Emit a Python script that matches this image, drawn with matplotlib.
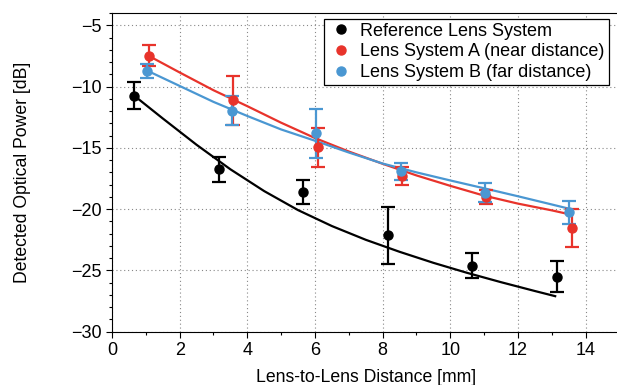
import matplotlib
matplotlib.use("Agg")
import matplotlib.pyplot as plt
from matplotlib.lines import Line2D
from matplotlib.ticker import MultipleLocator

plt.rcParams['font.family'] = ['Liberation Sans', 'DejaVu Sans']

# Measured data points (distance in mm, power in dB, +/- error in dB)
ref_x = [0.66, 3.17, 5.66, 8.15, 10.65, 13.14]
ref_y = [-10.75, -16.75, -18.6, -22.15, -24.6, -25.5]
ref_err = [1.1, 1.0, 1.0, 2.3, 1.0, 1.3]

a_x = [1.09, 3.59, 6.08, 8.58, 11.05, 13.59]
a_y = [-7.5, -11.1, -14.95, -17.3, -19.0, -21.5]
a_err = [0.85, 2.0, 1.6, 0.75, 0.6, 1.55]

b_x = [1.03, 3.54, 6.03, 8.53, 11.03, 13.52]
b_y = [-8.72, -11.96, -13.8, -16.9, -18.65, -20.25]
b_err = [0.6, 1.2, 2.0, 0.7, 0.8, 0.95]

# Model curves
ref_fit_x = [0.66, 1.5, 2.5, 3.5, 4.5, 5.5, 6.5, 7.5, 8.5, 9.5, 10.5, 11.5, 12.5, 13.1]
ref_fit_y = [-10.75, -12.6, -14.75, -16.75, -18.53, -20.08, -21.38, -22.5, -23.48,
             -24.38, -25.2, -25.96, -26.68, -27.1]

a_fit_x = [1.09, 2, 3, 4, 5, 6, 7, 8, 9, 10, 11, 12, 13, 13.49]
a_fit_y = [-7.5, -8.85, -10.3, -11.6, -12.95, -14.2, -15.3, -16.3, -17.25, -18.1,
           -18.9, -19.55, -20.1, -20.4]

b_fit_x = [1.04, 2, 3, 4, 5, 6, 7, 8, 9, 10, 11, 12, 13, 13.49]
b_fit_y = [-8.7, -9.95, -11.25, -12.4, -13.5, -14.42, -15.38, -16.28, -17.0, -17.66,
           -18.3, -18.95, -19.62, -19.95]

labels = ["Reference Lens System", "Lens System A (near distance)", "Lens System B (far distance)"]
colors = ["black", "#e8332b", "#4a97d2"]

fig = plt.figure(figsize=(6.17, 3.85), dpi=100)
ax = fig.add_axes([0.1815, 0.1384, 0.8225, 0.8278])

series = [(ref_x, ref_y, ref_err, ref_fit_x, ref_fit_y),
          (a_x, a_y, a_err, a_fit_x, a_fit_y),
          (b_x, b_y, b_err, b_fit_x, b_fit_y)]
for (x, y, e, fx, fy), c in zip(series, colors):
    ax.plot(fx, fy, color=c, lw=1.6, zorder=2)
    ax.errorbar(x, y, yerr=e, fmt='o', color=c, ms=6.5, elinewidth=1.6,
                capsize=5, capthick=1.6, zorder=3)

ax.set_xlim(0, 15)
ax.set_ylim(-30, -4)
ax.xaxis.set_major_locator(MultipleLocator(2))
ax.xaxis.set_minor_locator(MultipleLocator(1))
ax.yaxis.set_major_locator(MultipleLocator(5))
ax.yaxis.set_minor_locator(MultipleLocator(1))
ax.tick_params(which='major', direction='out', length=4, width=0.8, labelsize=13)
ax.tick_params(which='minor', direction='out', length=2.5, width=0.8)
ax.grid(True, which='major', color='#888888', ls=(0, (1, 2.5)), lw=0.8)
ax.set_axisbelow(True)
ax.spines['right'].set_visible(False)

ax.set_xlabel("Lens-to-Lens Distance [mm]", fontsize=12.7, labelpad=7)
ax.set_ylabel("Detected Optical Power [dB]", fontsize=12.7, labelpad=29)

handles = [Line2D([], [], ls='none', marker='o', color=c, ms=6.5) for c in colors]
leg = ax.legend(handles, labels, loc='upper right', bbox_to_anchor=(0.979, 0.982),
                borderaxespad=0, fontsize=13, frameon=True, fancybox=False,
                framealpha=1, edgecolor='black', handlelength=1.4,
                handletextpad=0.4, labelspacing=0.2, borderpad=0.22)
leg.get_frame().set_linewidth(0.9)

fig.savefig("out.png", dpi=100)
